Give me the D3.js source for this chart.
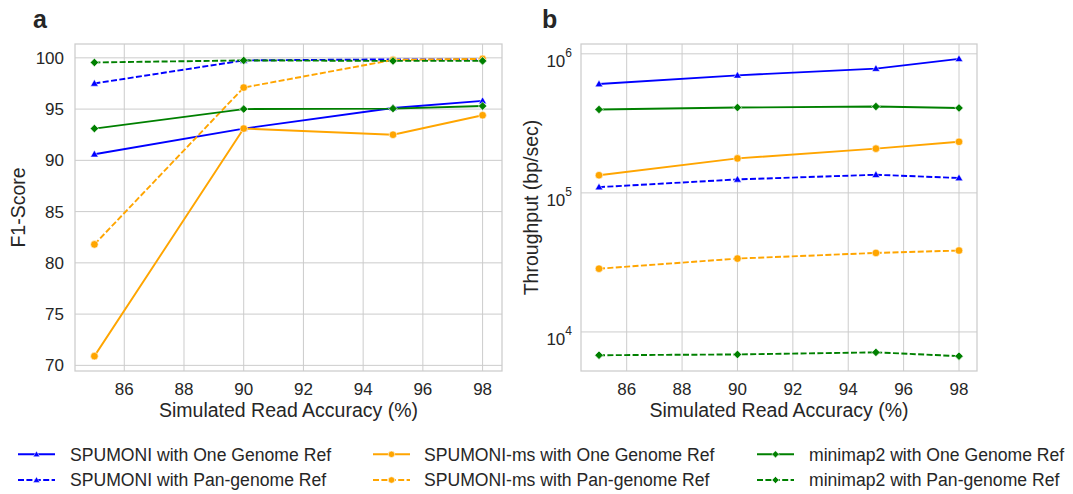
<!DOCTYPE html>
<html>
<head>
<meta charset="utf-8">
<script src="https://cdn.jsdelivr.net/npm/d3@7"></script>
<style>
  html, body { margin: 0; padding: 0; background: #ffffff; }
  svg { display: block; font-family: "Liberation Sans", Arial, sans-serif; }
</style>
</head>
<body>
<svg id="chart" width="1073" height="494"></svg>
<script>
// ---------- data ----------
const accuracy = [85, 90, 95, 98];
const xTicks = [86, 88, 90, 92, 94, 96, 98];
const f1Ticks = [70, 75, 80, 85, 90, 95, 100];
const tpTicks = [1e4, 1e5, 1e6];

const seriesNames = [
  "SPUMONI with One Genome Ref",
  "SPUMONI with Pan-genome Ref",
  "SPUMONI-ms with One Genome Ref",
  "SPUMONI-ms with Pan-genome Ref",
  "minimap2 with One Genome Ref",
  "minimap2 with Pan-genome Ref"
];

const f1SpumoniOne = [90.6, 93.1, 95.1, 95.8];
const f1SpumoniPan = [97.5, 99.75, 99.85, 99.85];
const f1MsOne      = [70.9, 93.1, 92.5, 94.4];
const f1MsPan      = [81.8, 97.1, 99.8, 99.9];
const f1MmOne      = [93.1, 95.0, 95.05, 95.3];
const f1MmPan      = [99.55, 99.75, 99.7, 99.7];

const tpSpumoniOne = [607000, 700000, 783000, 920000];
const tpSpumoniPan = [110000, 125000, 135000, 128000];
const tpMsOne      = [134000, 177000, 208000, 233000];
const tpMsPan      = [28500, 33700, 37000, 38500];
const tpMmOne      = [398000, 411000, 418000, 408000];
const tpMmPan      = [6800, 6890, 7130, 6700];

const f1Series = [f1SpumoniOne, f1SpumoniPan, f1MsOne, f1MsPan, f1MmOne, f1MmPan];
const tpSeries = [tpSpumoniOne, tpSpumoniPan, tpMsOne, tpMsPan, tpMmOne, tpMmPan];

// ---------- styles ----------
const colors  = ["blue", "blue", "orange", "orange", "green", "green"];
const dashed  = [false, true, false, true, false, true];
const markers = ["triangle", "triangle", "circle", "circle", "diamond", "diamond"];

const TEXT = "#262626";
const GRID = "#cccccc";
const DASH = "6,2.4";

const svg = d3.select("#chart");

function drawMarker(g, type, x, y, color, scale) {
  const k = scale || 1;
  if (type === "circle") {
    g.append("circle").attr("cx", x).attr("cy", y).attr("r", 3.8 * k)
      .attr("fill", color).attr("stroke", "#fff").attr("stroke-width", 0.6);
  } else if (type === "triangle") {
    g.append("path").attr("d", d3.symbol(d3.symbolTriangle, 26 * k * k)())
      .attr("transform", `translate(${x},${y + 0.5})`)
      .attr("fill", color).attr("stroke", "#fff").attr("stroke-width", 0.5);
  } else {
    g.append("path").attr("d", d3.symbol(d3.symbolSquare, 36 * k * k)())
      .attr("transform", `translate(${x},${y}) rotate(45)`)
      .attr("fill", color).attr("stroke", "#fff").attr("stroke-width", 0.6);
  }
}

function padDomain(lo, hi) {
  const p = (hi - lo) * 0.05;
  return [lo - p, hi + p];
}

function panel(opts) {
  const { left, right, top, bottom, series, log, yTicks, ylabel, ylabelX, letter, letterX } = opts;
  const g = svg.append("g");
  const xDom = padDomain(d3.min(accuracy), d3.max(accuracy));
  const x = d3.scaleLinear().domain(xDom).range([left, right]);
  const all = series.flat();
  let y;
  if (log) {
    const ld = padDomain(Math.log10(d3.min(all)), Math.log10(d3.max(all)));
    y = d3.scaleLog().domain([10 ** ld[0], 10 ** ld[1]]).range([bottom, top]);
  } else {
    y = d3.scaleLinear().domain(padDomain(d3.min(all), d3.max(all))).range([bottom, top]);
  }

  // grid
  g.append("g").selectAll("line").data(xTicks).join("line")
    .attr("x1", d => x(d)).attr("x2", d => x(d)).attr("y1", top).attr("y2", bottom)
    .attr("stroke", GRID).attr("stroke-width", 1);
  g.append("g").selectAll("line").data(yTicks).join("line")
    .attr("y1", d => y(d)).attr("y2", d => y(d)).attr("x1", left).attr("x2", right)
    .attr("stroke", GRID).attr("stroke-width", 1);

  // frame
  g.append("rect").attr("x", left).attr("y", top).attr("width", right - left).attr("height", bottom - top)
    .attr("fill", "none").attr("stroke", GRID).attr("stroke-width", 1.25);

  // x tick labels
  g.append("g").selectAll("text").data(xTicks).join("text")
    .attr("x", d => x(d)).attr("y", bottom + 23.5)
    .attr("text-anchor", "middle").attr("font-size", 17).attr("fill", TEXT)
    .text(d => d);

  // y tick labels
  const yl = g.append("g").selectAll("text").data(yTicks).join("text")
    .attr("font-size", 17).attr("fill", TEXT).attr("text-anchor", "end");
  if (log) {
    yl.attr("x", left - 9).attr("y", d => y(d) + 13)
      .each(function(d) {
        const t = d3.select(this);
        t.append("tspan").text("10");
        t.append("tspan").attr("font-size", 12).attr("dy", -10).text(Math.round(Math.log10(d)));
      });
  } else {
    yl.attr("x", left - 11).attr("y", d => y(d)).attr("dy", "0.35em").text(d => d);
  }

  // axis labels
  g.append("text").attr("x", (left + right) / 2).attr("y", 417)
    .attr("text-anchor", "middle").attr("font-size", 19.5).attr("fill", TEXT)
    .text("Simulated Read Accuracy (%)");
  g.append("text").attr("transform", `translate(${ylabelX},${(top + bottom) / 2}) rotate(-90)`)
    .attr("text-anchor", "middle").attr("font-size", 19.5).attr("fill", TEXT)
    .text(ylabel);

  // panel letter
  g.append("text").attr("x", letterX).attr("y", 28).attr("font-size", 25)
    .attr("font-weight", "bold").attr("fill", TEXT).text(letter);

  // series
  const line = d3.line().x((d, i) => x(accuracy[i])).y(d => y(d));
  series.forEach((vals, s) => {
    const sg = g.append("g");
    sg.append("path").datum(vals).attr("d", line)
      .attr("fill", "none").attr("stroke", colors[s]).attr("stroke-width", 1.9)
      .attr("stroke-dasharray", dashed[s] ? DASH : null);
    vals.forEach((v, i) => drawMarker(sg, markers[s], x(accuracy[i]), y(v), colors[s]));
  });
}

panel({ left: 75, right: 502, top: 44, bottom: 371, series: f1Series, log: false,
  yTicks: f1Ticks, ylabel: "F1-Score", ylabelX: 25, letter: "a", letterX: 33 });
panel({ left: 581, right: 977, top: 44, bottom: 371, series: tpSeries, log: true,
  yTicks: tpTicks, ylabel: "Throughput (bp/sec)", ylabelX: 538, letter: "b", letterX: 542 });

// ---------- legend ----------
const legCols = [{ x0: 18, tx: 70 }, { x0: 373, tx: 424 }, { x0: 757, tx: 809 }];
const legRows = [454.3, 480];
const leg = svg.append("g");
seriesNames.forEach((name, s) => {
  const col = legCols[Math.floor(s / 2)];
  const yy = legRows[s % 2];
  const lg = leg.append("g");
  lg.append("line").attr("x1", col.x0).attr("x2", col.x0 + 37).attr("y1", yy).attr("y2", yy)
    .attr("stroke", colors[s]).attr("stroke-width", 1.9)
    .attr("stroke-dasharray", dashed[s] ? DASH : null);
  drawMarker(lg, markers[s], col.x0 + 18.5, yy, colors[s], 0.85);
  lg.append("text").attr("x", col.tx).attr("y", yy).attr("dy", "0.36em")
    .attr("font-size", 17.6).attr("fill", TEXT).text(name);
});
</script>
</body>
</html>
